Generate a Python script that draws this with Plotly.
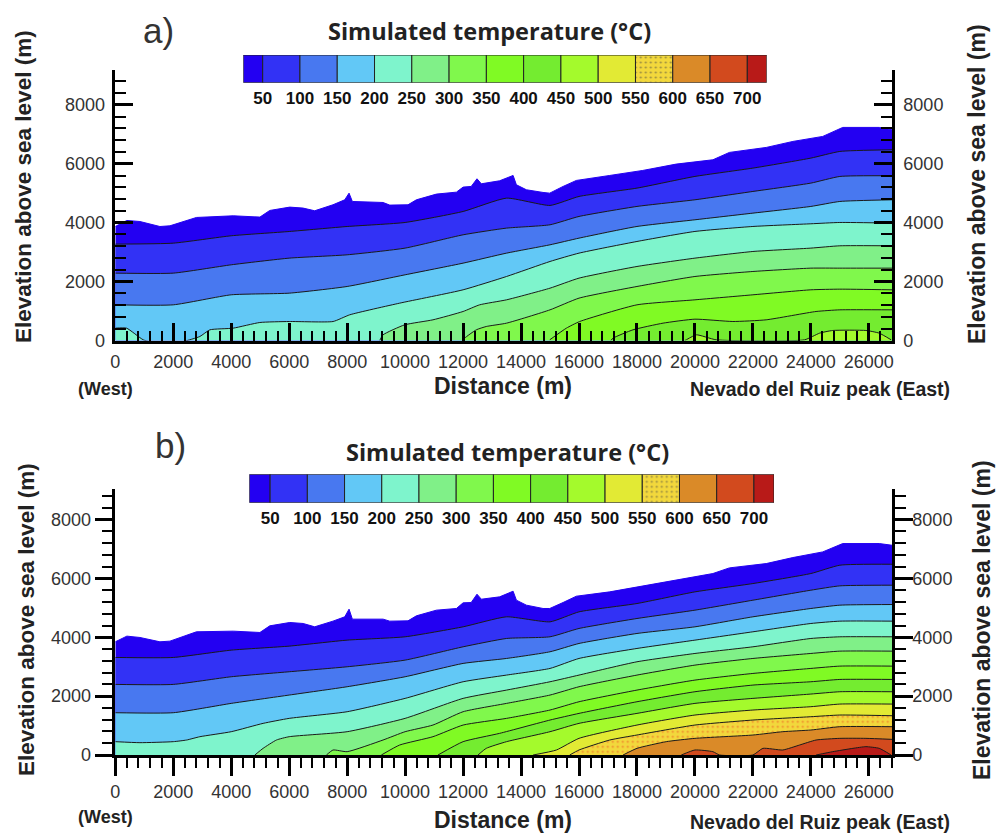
import plotly.graph_objects as go

W, H = 996, 835

# shared distance grid for isotherms (m)
grid = [0, 2000, 4000, 6000, 8000, 10000, 12000, 13500, 15000, 16000, 18000, 20000, 22000, 24000, 25000, 26800]

# ground surface
surf_x = [0, 400, 850, 1540, 1885, 2800, 4070, 4990, 5330, 6020, 6480, 6880, 7510, 7917, 8066, 8180, 9240, 9470, 10100, 10390,
          11080, 11770, 12000, 12280, 12480, 12630, 13260, 13726, 13840, 14185, 14760, 14990, 15450, 15910, 17060,
          18200, 19350, 20620, 21190, 22460, 23380, 24410, 25100, 26360, 26800]
a_surf = [3870, 4075, 4040, 3870, 3894, 4177, 4233, 4190, 4415, 4528, 4495, 4404, 4607, 4777, 5003, 4720, 4686, 4596, 4607, 4777,
          4970, 5037, 5207, 5230, 5490, 5320, 5422, 5603, 5286, 5117, 5026, 5003, 5230, 5434, 5603,
          5773, 5988, 6135, 6385, 6554, 6758, 6928, 7234, 7234, 7154]
b_surf = [3847, 4040, 3994, 3847, 3870, 4187, 4209, 4164, 4390, 4503, 4470, 4357, 4549, 4696, 4956, 4617, 4617, 4549, 4560, 4730,
          4922, 4979, 5171, 5182, 5465, 5295, 5375, 5567, 5262, 5092, 4979, 4979, 5182, 5397, 5544,
          5748, 5940, 6167, 6359, 6506, 6710, 6902, 7186, 7186, 7129]

# panel a isotherms
a50 = [3272, 3305, 3555, 3700, 3870, 4007, 4380, 4833, 4585, 4890, 5173, 5570, 5852, 6192, 6418, 6475]
a100 = [2287, 2287, 2570, 2796, 2909, 3136, 3588, 3815, 3928, 4211, 4551, 4777, 5060, 5343, 5569, 5592]
a150 = [1211, 1211, 1551, 1607, 1834, 2230, 2626, 2966, 3249, 3475, 3871, 4098, 4324, 4551, 4720, 4777]
a200_x = [0, 390, 965, 1540, 2344, 2918, 3263, 4067, 4987, 6000, 7514, 8089, 9812, 12000, 13500, 15000, 16000, 18000, 20000, 22000, 24000, 25000, 26800]
a200 = [419, 419, 23, -113, -34, 136, 362, 419, 611, 645, 645, 872, 1268, 1721, 2173, 2683, 2966, 3362, 3702, 3871, 3962, 4007, 3985]
a250_x = [9123, 9238, 9985, 10960, 12000, 12570, 13500, 15000, 16000, 18000, 20000, 22000, 24000, 25000, 26800]
a250 = [0, 192, 532, 702, 985, 1211, 1381, 1777, 2117, 2513, 2796, 3022, 3136, 3215, 3215]
a300_x = [12000, 12053, 12455, 12800, 13500, 15000, 16000, 18000, 20000, 22000, 24000, 25000, 26800]
a300 = [0, 79, 362, 475, 589, 1041, 1438, 1834, 2173, 2343, 2456, 2456, 2456]
a350_x = [14990, 15564, 16024, 18000, 20000, 22000, 24000, 25000, 26800]
a350 = [23, 419, 645, 1211, 1381, 1551, 1721, 1743, 1721]
a400_x = [17100, 17172, 17862, 18900, 20000, 21310, 22458, 24180, 25000, 26800]
a400 = [0, 79, 362, 589, 724, 645, 702, 985, 1041, 1041]
a450_x = [19650, 19700, 20050, 20735, 23780, 24300, 24755, 25900, 26360, 26770]
a450 = [0, 23, 192, 23, 23, 249, 340, 340, 249, 23]

# panel b isotherms
b50 = [3315, 3315, 3564, 3700, 3904, 4017, 4356, 4696, 4526, 4865, 5148, 5544, 5827, 6167, 6450, 6483]
b100 = [2399, 2399, 2659, 2829, 2998, 3225, 3677, 3960, 4017, 4300, 4639, 4922, 5261, 5601, 5748, 5771]
b150 = [1437, 1437, 1754, 2037, 2320, 2659, 3112, 3281, 3508, 3790, 4130, 4356, 4696, 4979, 5092, 5114]
b200_x = [0, 850, 2000, 2460, 2918, 4000, 5100, 6000, 8000, 10000, 12000, 13500, 15000, 16000, 18000, 20000, 22000, 24000, 25000, 26800]
b200 = [453, 419, 453, 509, 622, 792, 1075, 1245, 1471, 1924, 2489, 2716, 2942, 3281, 3621, 3904, 4187, 4469, 4549, 4549]
b250_x = [4815, 5100, 5560, 6000, 8000, 10000, 12000, 13500, 15000, 16000, 18000, 20000, 22000, 24000, 25000, 26800]
b250 = [0, 226, 509, 622, 792, 1245, 1924, 2206, 2489, 2716, 3168, 3451, 3677, 3960, 4017, 4017]
b300_x = [7285, 7514, 8000, 9238, 10000, 10960, 12000, 13500, 15000, 16000, 18000, 20000, 22000, 24000, 25000, 26800]
b300 = [0, 170, 113, 509, 792, 1018, 1471, 1754, 2037, 2320, 2716, 3055, 3281, 3451, 3530, 3530]
b350_x = [9180, 9812, 10960, 12000, 13500, 15000, 16000, 18000, 20000, 22000, 24000, 25000, 26800]
b350 = [0, 339, 622, 1018, 1245, 1528, 1810, 2206, 2546, 2772, 2942, 3021, 3021]
b400_x = [11134, 12000, 13260, 15000, 16000, 18000, 20000, 22000, 24000, 25000, 26800]
b400 = [0, 453, 735, 1188, 1414, 1810, 2150, 2376, 2489, 2568, 2568]
b450_x = [12515, 12800, 13500, 15000, 16000, 18000, 20000, 22000, 24000, 25000, 26800]
b450 = [0, 226, 453, 792, 1075, 1414, 1754, 1924, 2071, 2150, 2150]
b500_x = [14415, 15220, 16000, 18000, 20000, 22000, 24000, 25000, 26800]
b500 = [0, 170, 566, 1018, 1358, 1528, 1641, 1731, 1731]
b550_x = [15680, 16000, 17060, 18000, 20000, 22000, 24000, 25000, 26800]
b550 = [0, 170, 509, 679, 1018, 1188, 1301, 1358, 1335]
b600_x = [17520, 18000, 19010, 20000, 22000, 23030, 24000, 25000, 26800]
b600 = [0, 226, 453, 566, 679, 792, 849, 962, 962]
b650_x = [19530, 20000, 20620, 20850, 22000, 22345, 23030, 23610, 24180, 25000, 25900, 26800]
b650 = [0, 170, 113, 0, 0, 226, 170, 339, 509, 566, 566, 532]
b700_x = [24180, 24755, 25450, 25900, 26360, 26770]
b700 = [0, 113, 226, 283, 226, 0]

# colour scale
scale_ticks = [50, 100, 150, 200, 250, 300, 350, 400, 450, 500, 550, 600, 650, 700]
band_colors = ["#2300f2", "#3232f5", "#4878f0", "#62c8f6", "#7ef4cc", "#80f088", "#80f84c", "#80fa24",
               "#74ec30", "#a4fa2c", "#e2ea34", "#f2d83c", "#da8a28", "#d24a1e", "#b81a18"]
DOTTED = 11  # index of the stippled 550-600 band
DOT = "#ec3c20"
a_bounds = [24] + scale_ticks + [726]
b_bounds = [22] + scale_ticks + [727]

fig = go.Figure()


def px_x(p):
    return p / W


def px_y(p):
    return 1 - p / H


def band_trace(x, y, i, xa, ya):
    line = dict(color="#1a1a1a" if i else band_colors[0], width=1)
    if i:
        line.update(shape="spline", smoothing=0.5)
    t = dict(x=x, y=y, mode="lines", fill="tozeroy", xaxis=xa, yaxis=ya, showlegend=False, hoverinfo="skip",
             fillcolor=band_colors[i], line=line)
    if i == DOTTED:
        t["fillpattern"] = dict(shape=".", fgcolor=DOT, bgcolor=band_colors[i], size=5, solidity=0.15)
    fig.add_trace(go.Scatter(**t))


panel_a = [(surf_x, a_surf), (grid, a50), (grid, a100), (grid, a150), (a200_x, a200), (a250_x, a250),
           (a300_x, a300), (a350_x, a350), (a400_x, a400), (a450_x, a450)]
panel_b = [(surf_x, b_surf), (grid, b50), (grid, b100), (grid, b150), (b200_x, b200), (b250_x, b250),
           (b300_x, b300), (b350_x, b350), (b400_x, b400), (b450_x, b450), (b500_x, b500), (b550_x, b550),
           (b600_x, b600), (b650_x, b650), (b700_x, b700)]

for i, (x, y) in enumerate(panel_a):
    band_trace(x, y, i, "x", "y")
for i, (x, y) in enumerate(panel_b):
    band_trace(x, y, i, "x2", "y2")

# invisible traces so the right-hand elevation axes exist
fig.add_trace(go.Scatter(x=surf_x, y=a_surf, mode="lines", line=dict(color="rgba(0,0,0,0)"), xaxis="x", yaxis="y3",
                         showlegend=False, hoverinfo="skip"))
fig.add_trace(go.Scatter(x=surf_x, y=b_surf, mode="lines", line=dict(color="rgba(0,0,0,0)"), xaxis="x2", yaxis="y4",
                         showlegend=False, hoverinfo="skip"))

# colour scale bars
for bounds, xa, ya in [(a_bounds, "x3", "y5"), (b_bounds, "x4", "y6")]:
    fig.add_trace(go.Bar(
        orientation="h", y=[0] * (len(bounds) - 1), x=[bounds[k + 1] - bounds[k] for k in range(len(bounds) - 1)],
        base=bounds[:-1], width=1, xaxis=xa, yaxis=ya, showlegend=False, hoverinfo="skip",
        marker=dict(color=band_colors, line=dict(color="#222222", width=1),
                    pattern=dict(shape=["." if k == DOTTED else "" for k in range(len(bounds) - 1)],
                                 fgcolor=DOT, size=5, solidity=0.15))))

FONT = "Liberation Sans"
x_dom = [px_x(115.3), px_x(892)]
tick_font = dict(family=FONT, size=18, color="#333333")


def xaxis(dom_anchor, direction, standoff):
    return dict(domain=x_dom, range=[0, 26800], anchor=dom_anchor, showgrid=False, zeroline=False, showline=True,
                linecolor="black", linewidth=2.5, ticks=direction, ticklen=18, tickwidth=2.5, tickcolor="black",
                tick0=0, dtick=2000, tickformat="d", tickfont=tick_font, ticklabelstandoff=standoff,
                minor=dict(ticks=direction, dtick=400, tick0=0, ticklen=10, tickwidth=2, tickcolor="black"))


def yaxis(dom, top, anchor, direction, side, overlay=None, standoff=0):
    d = dict(domain=dom, range=[0, top], anchor=anchor, side=side, showgrid=False, zeroline=False, showline=True,
             linecolor="black", linewidth=2.5, ticks=direction, ticklen=18, tickwidth=2.5, tickcolor="black",
             tick0=0, dtick=2000, tickformat="d", tickfont=tick_font, ticklabelstandoff=standoff,
             minor=dict(ticks=direction, dtick=400, tick0=0, ticklen=11, tickwidth=2, tickcolor="black"))
    if overlay:
        d["overlaying"] = overlay
    return d


dom_a = [px_y(340.5), px_y(69.5)]
dom_b = [px_y(755), px_y(489.3)]


def scale_x(bounds, left, right, anchor):
    return dict(domain=[px_x(left), px_x(right)], range=[bounds[0], bounds[-1]], anchor=anchor, showgrid=False,
                zeroline=False, showline=False, ticks="", tickvals=scale_ticks, ticklabelstandoff=3,
                tickfont=dict(family=FONT, size=17, color="#111111", weight="bold"))


def scale_y(top, bottom, anchor):
    return dict(domain=[px_y(bottom), px_y(top)], range=[-0.5, 0.5], anchor=anchor, visible=False)


def note(text, x, y, size, family=FONT, bold=True, color="#222222", angle=0):
    return dict(text=f"<b>{text}</b>" if bold else text, x=px_x(x), y=px_y(y), xref="paper", yref="paper",
                showarrow=False, textangle=angle, xanchor="center", yanchor="middle",
                font=dict(family=family, size=size, color=color))


fig.update_layout(
    width=W, height=H, margin=dict(l=0, r=0, t=0, b=0, autoexpand=False), paper_bgcolor="white", plot_bgcolor="white",
    showlegend=False, barmode="overlay",
    xaxis=xaxis("y", "inside", 3),
    yaxis=yaxis(dom_a, 9200, "x", "inside", "left", standoff=4),
    yaxis3=yaxis(dom_a, 9200, "x", "inside", "right", overlay="y", standoff=5),
    xaxis2=xaxis("y2", "outside", 1),
    yaxis2=yaxis(dom_b, 9030, "x2", "outside", "left", standoff=0),
    yaxis4=yaxis(dom_b, 9030, "x2", "outside", "right", overlay="y2", standoff=-4),
    xaxis3=scale_x(a_bounds, 243.3, 766.7, "y5"),
    yaxis5=scale_y(55, 82.7, "x3"),
    xaxis4=scale_x(b_bounds, 249.3, 774, "y6"),
    yaxis6=scale_y(474.3, 502.7, "x4"),
    annotations=[
        note("a)", 158, 31, 35, bold=False, color="#333333"),
        note("Simulated temperature (°C)", 489, 31, 23.5, family="Open Sans"),
        note("Elevation above sea level (m)", 23, 187, 22.5, angle=-90),
        note("Elevation above sea level (m)", 977, 184, 23, angle=-90),
        note("(West)", 105, 389, 18),
        note("Distance (m)", 503, 386, 23),
        note("Nevado del Ruiz peak (East)", 820, 389, 19.5),
        note("b)", 170, 445, 35, bold=False, color="#333333"),
        note("Simulated temperature (°C)", 507, 452, 23.5, family="Open Sans"),
        note("Elevation above sea level (m)", 26, 620, 22.5, angle=-90),
        note("Elevation above sea level (m)", 982, 620, 23, angle=-90),
        note("(West)", 105, 817, 18),
        note("Distance (m)", 503, 820, 23),
        note("Nevado del Ruiz peak (East)", 820, 822, 19.5),
    ],
)

fig.write_html("out.html", config={"displayModeBar": False}, post_script="document.body.style.margin='0';")
